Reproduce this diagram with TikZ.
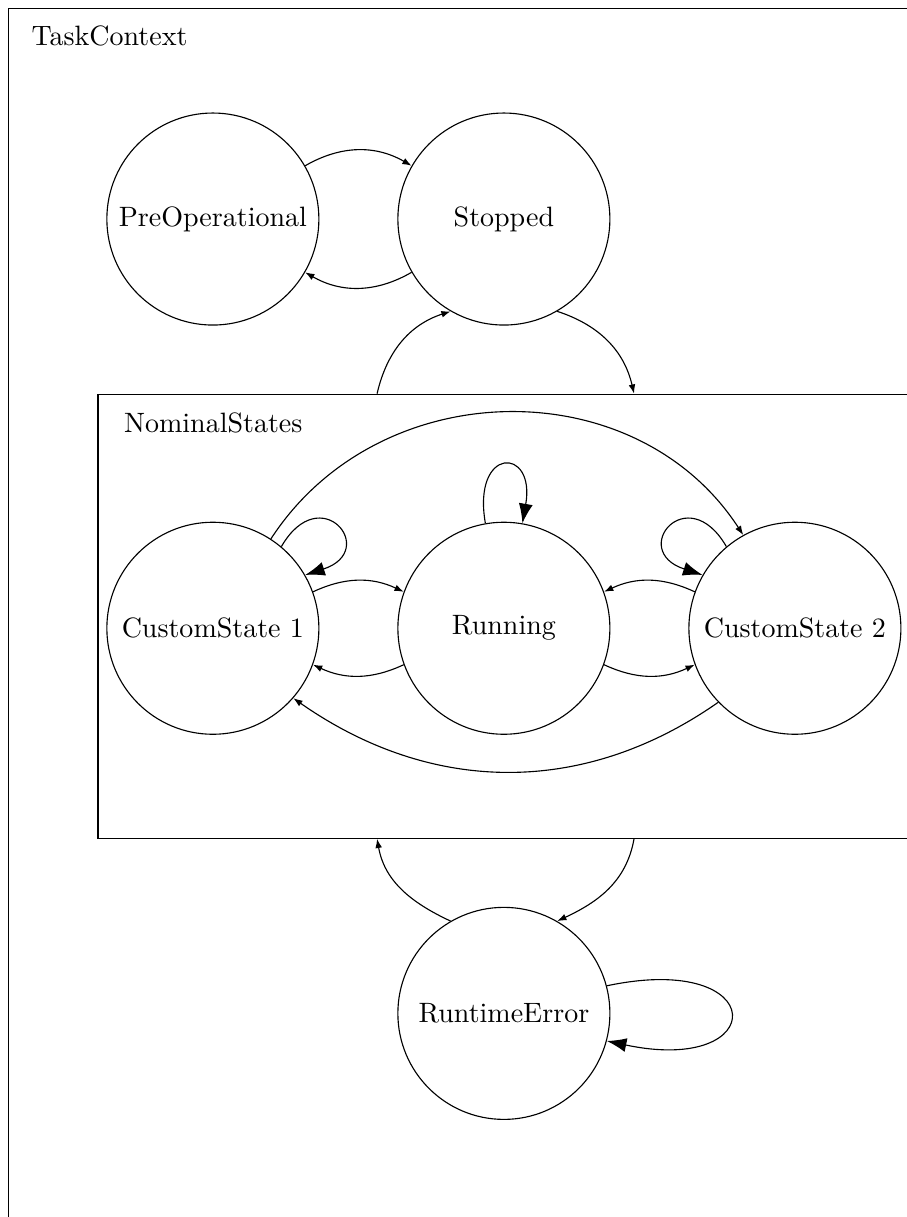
\documentclass[tikz,border=0pt]{standalone}
\usetikzlibrary{arrows.meta,positioning}

\begin{document}
\begin{tikzpicture}[
  >=Latex,
  arrow/.style={-{Latex[length=3.3pt,width=2.4pt]}, draw=black, line width=0.4pt},
  looparrow/.style={-{Latex[length=7pt,width=5pt]}, draw=black, line width=0.4pt},
  state/.style={circle, draw=black, line width=0.4pt, minimum size=75.7pt, inner sep=1pt},
  container/.style={rectangle, draw=black, line width=0.4pt, inner sep=0pt},
  boxlabel/.style={anchor=base west, inner sep=0pt}
]

% Page area
\useasboundingbox (0,0) rectangle (323.8pt,-434.5pt);
\clip (0,0) rectangle (323.8pt,-434.5pt);

% 1. Top row: PreOperational and Stopped
\node[state] (preop) at (76pt,-78.2pt) {PreOperational};
\node[state, right=27.8pt of preop] (stopped) {Stopped};

% 2. Nominal states row
\node[state, below=70pt of preop] (custom1) {CustomState 1};
\node[state, below=70pt of stopped] (running) {Running};
\node[state, right=27.8pt of running] (custom2) {CustomState 2};

% 3. Error state
\node[state, below=61.4pt of running] (rterror) {RuntimeError};

% Containers
\node[container, anchor=north west, minimum width=360pt, minimum height=480pt] (taskctx) at (2.9pt,-2.9pt) {};
\node[boxlabel] (tasklabel) at ([xshift=8.2pt,yshift=-13.2pt]taskctx.north west) {TaskContext};

\node[container, minimum width=291pt, minimum height=158.5pt] (nominal) at ([xshift=0.6pt,yshift=4.3pt]running.center) {};
\node[boxlabel] (nominallabel) at ([xshift=9.3pt,yshift=-13.9pt]nominal.north west) {NominalStates};

% Arrows
\draw[arrow] (preop.30) to[bend left=30] (stopped.150);
\draw[arrow] (stopped.210) to[bend left=30] (preop.330);

\draw[arrow] (stopped.-60) to[out=-18, in=103] (nominal.60);
\draw[arrow] (nominal.120) to[out=77, in=198] (stopped.-120);

\draw[arrow] (custom1.20) to[bend left=25] (running.160);
\draw[arrow] (running.200) to[bend left=25] (custom1.-20);
\draw[arrow] (running.-20) to[bend right=25] (custom2.200);
\draw[arrow] (custom2.160) to[bend right=25] (running.20);

\draw[arrow] (custom1.57) to[out=57, in=123, looseness=1.07] (custom2.119);
\draw[arrow] (custom2.224) to[out=215, in=-35] (custom1.-41);

\draw[arrow] (nominal.-60) to[out=-100, in=25] (rterror.60);
\draw[arrow] (rterror.120) to[out=155, in=-80] (nominal.-120);

% Self loops
\draw[looparrow] (custom1.50) .. controls +(60:28pt) and +(18:28pt) .. (custom1.30);
\draw[looparrow] (running.100) .. controls +(100:28pt) and +(80:28pt) .. (running.80);
\draw[looparrow] (custom2.130) .. controls +(120:28pt) and +(162:28pt) .. (custom2.150);
\draw[looparrow] (rterror.15) .. controls +(12:60pt) and +(-12:60pt) .. (rterror.-15);

\end{tikzpicture}
\end{document}
